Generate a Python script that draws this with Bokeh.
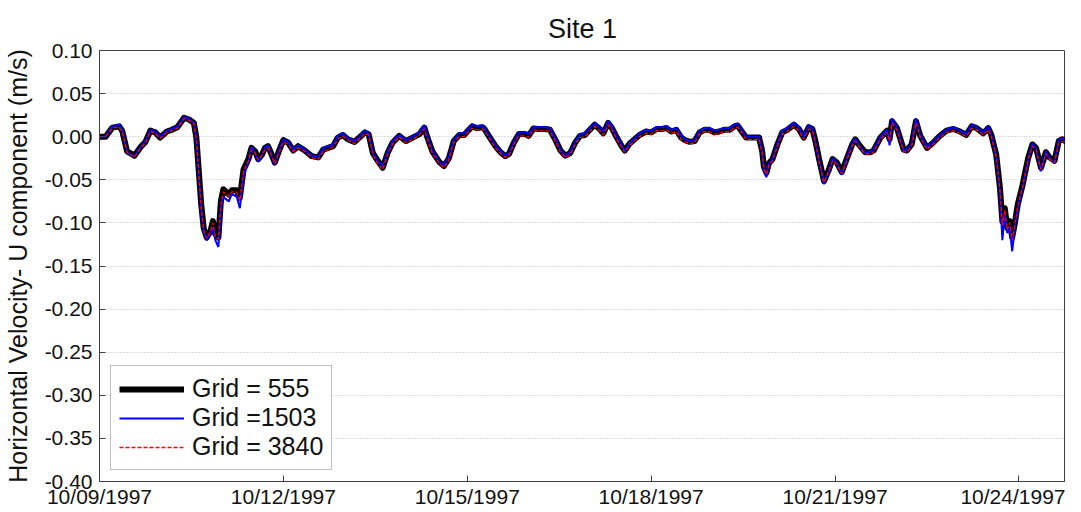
from bokeh.plotting import figure
from bokeh.models import FixedTicker, PrintfTickFormatter, Range1d, Legend, LegendItem
from bokeh.embed import file_html
from bokeh.resources import INLINE

# ---------------- data ----------------
# time in days since 10/09/1997 00:00
days = [0.00, 0.10, 0.21, 0.32, 0.37, 0.45, 0.57, 0.67, 0.75, 0.83,
        0.91, 0.99, 1.10, 1.18, 1.27, 1.38, 1.46, 1.54, 1.58, 1.62,
        1.66, 1.70, 1.75, 1.81, 1.85, 1.89, 1.94, 1.98, 2.02, 2.11,
        2.16, 2.24, 2.29, 2.35, 2.43, 2.48, 2.54, 2.59, 2.65, 2.70,
        2.75, 2.81, 2.86, 2.92, 3.00, 3.08, 3.16, 3.24, 3.35, 3.46,
        3.57, 3.65, 3.73, 3.81, 3.89, 3.97, 4.05, 4.16, 4.24, 4.33,
        4.39, 4.46, 4.54, 4.62, 4.70, 4.78, 4.89, 5.00, 5.11, 5.22,
        5.30, 5.35, 5.43, 5.54, 5.62, 5.70, 5.78, 5.87, 5.95, 6.00,
        6.08, 6.16, 6.25, 6.28, 6.35, 6.46, 6.54, 6.62, 6.68, 6.76,
        6.84, 6.95, 7.00, 7.08, 7.16, 7.27, 7.35, 7.44, 7.52, 7.60,
        7.68, 7.76, 7.84, 7.92, 8.00, 8.08, 8.16, 8.22, 8.30, 8.36,
        8.44, 8.52, 8.57, 8.65, 8.73, 8.81, 8.92, 9.00, 9.09, 9.17,
        9.25, 9.33, 9.41, 9.49, 9.55, 9.63, 9.71, 9.79, 9.87, 9.95,
        10.03, 10.11, 10.19, 10.28, 10.36, 10.41, 10.49, 10.55, 10.65, 10.76,
        10.81, 10.84, 10.88, 10.92, 10.98, 11.06, 11.14, 11.22, 11.33, 11.41,
        11.49, 11.57, 11.63, 11.68, 11.74, 11.82, 11.89, 11.96, 12.03, 12.11,
        12.20, 12.28, 12.33, 12.41, 12.49, 12.58, 12.63, 12.74, 12.85, 12.89,
        12.93, 13.01, 13.12, 13.17, 13.25, 13.32, 13.39, 13.50, 13.60, 13.71,
        13.82, 13.93, 14.04, 14.14, 14.23, 14.31, 14.42, 14.50, 14.55, 14.63,
        14.69, 14.73, 14.77, 14.81, 14.85, 14.89, 14.93, 14.98, 15.06, 15.15,
        15.22, 15.28, 15.36, 15.44, 15.50, 15.58, 15.65, 15.71, 15.80, 15.88,
        16.00]

u_grid_555 = [
    0.000, 0.000, 0.0105, 0.012, 0.007, -0.017, -0.022, -0.012, -0.006, 0.007,
    0.005, -0.001, 0.006, 0.008, 0.011, 0.022, 0.020, 0.016, -0.001, -0.040,
    -0.079, -0.106, -0.117, -0.110, -0.098, -0.113, -0.117, -0.075, -0.061, -0.067,
    -0.062, -0.062, -0.071, -0.038, -0.026, -0.013, -0.017, -0.026, -0.021, -0.013,
    -0.011, -0.021, -0.030, -0.018, -0.004, -0.007, -0.016, -0.011, -0.016, -0.0225,
    -0.024, -0.015, -0.013, -0.011, -0.001, 0.002, -0.003, -0.006, -0.001, 0.005,
    0.003, -0.019, -0.028, -0.036, -0.019, -0.007, 0.001, -0.005, -0.001, 0.003,
    0.0105, -0.001, -0.017, -0.029, -0.034, -0.025, -0.005, 0.002, 0.002, 0.006,
    0.012, 0.010, 0.011, 0.009, 0.001, -0.011, -0.018, -0.0225, -0.020, -0.007,
    0.003, 0.003, 0.001, 0.0095, 0.009, 0.009, 0.008, -0.004, -0.016, -0.022,
    -0.019, -0.007, 0.001, 0.002, 0.008, 0.014, 0.009, 0.004, 0.016, 0.010,
    -0.001, -0.011, -0.016, -0.008, -0.003, 0.002, 0.006, 0.005, 0.009, 0.009,
    0.010, 0.006, 0.008, -0.001, -0.004, -0.006, -0.005, 0.005, 0.008, 0.008,
    0.005, 0.006, 0.008, 0.008, 0.012, 0.013, 0.005, -0.001, -0.001, -0.001,
    -0.016, -0.035, -0.042, -0.031, -0.026, -0.009, 0.005, 0.008, 0.014, 0.009,
    -0.001, 0.011, 0.009, -0.005, -0.026, -0.0515, -0.040, -0.026, -0.030, -0.041,
    -0.024, -0.009, -0.003, -0.011, -0.018, -0.018, -0.016, -0.001, 0.007, -0.003,
    0.018, 0.010, -0.015, -0.016, -0.009, 0.018, 0.001, -0.013, -0.007, 0.001,
    0.007, 0.009, 0.006, 0.002, 0.012, 0.010, 0.004, 0.010, 0.002, -0.021,
    -0.059, -0.098, -0.083, -0.106, -0.098, -0.117, -0.102, -0.079, -0.056, -0.025,
    -0.009, -0.013, -0.036, -0.018, -0.024, -0.028, -0.005, -0.003, -0.007, -0.007,
    -0.005]

u_grid_1503 = [
    0.000, 0.000, 0.012, 0.014, 0.008, -0.018, -0.023, -0.012, -0.005, 0.008,
    0.006, 0.000, 0.007, 0.009, 0.012, 0.023, 0.021, 0.016, -0.004, -0.045,
    -0.085, -0.110, -0.120, -0.112, -0.105, -0.120, -0.128, -0.085, -0.070, -0.075,
    -0.066, -0.070, -0.083, -0.045, -0.030, -0.012, -0.019, -0.029, -0.022, -0.012,
    -0.010, -0.023, -0.032, -0.017, -0.003, -0.006, -0.015, -0.010, -0.015, -0.022,
    -0.023, -0.013, -0.011, -0.009, 0.001, 0.004, -0.002, -0.005, 0.000, 0.007,
    0.004, -0.018, -0.029, -0.034, -0.018, -0.005, 0.002, -0.004, 0.000, 0.005,
    0.013, 0.000, -0.016, -0.029, -0.033, -0.024, -0.004, 0.004, 0.004, 0.008,
    0.014, 0.012, 0.013, 0.010, 0.002, -0.010, -0.017, -0.022, -0.019, -0.006,
    0.005, 0.005, 0.003, 0.011, 0.011, 0.011, 0.010, -0.003, -0.015, -0.023,
    -0.018, -0.006, 0.003, 0.004, 0.010, 0.016, 0.011, 0.006, 0.018, 0.012,
    0.000, -0.010, -0.017, -0.007, -0.002, 0.004, 0.008, 0.007, 0.011, 0.011,
    0.012, 0.008, 0.010, 0.001, -0.003, -0.005, -0.004, 0.007, 0.010, 0.010,
    0.007, 0.008, 0.010, 0.010, 0.014, 0.015, 0.006, 0.000, 0.000, 0.000,
    -0.017, -0.038, -0.047, -0.032, -0.025, -0.008, 0.007, 0.010, 0.016, 0.011,
    0.000, 0.013, 0.010, -0.006, -0.028, -0.055, -0.041, -0.025, -0.031, -0.044,
    -0.023, -0.008, -0.002, -0.012, -0.019, -0.017, -0.015, 0.000, 0.008, -0.010,
    0.021, 0.011, -0.016, -0.015, -0.008, 0.021, 0.002, -0.012, -0.006, 0.002,
    0.008, 0.011, 0.007, 0.003, 0.014, 0.011, 0.005, 0.012, 0.003, -0.023,
    -0.065, -0.120, -0.088, -0.112, -0.104, -0.133, -0.108, -0.084, -0.060, -0.027,
    -0.008, -0.014, -0.040, -0.017, -0.025, -0.031, -0.004, -0.002, -0.006, -0.006,
    -0.004]

u_grid_3840 = [
    0.000, 0.000, 0.010, 0.011, 0.006, -0.018, -0.024, -0.013, -0.007, 0.006,
    0.004, -0.002, 0.005, 0.007, 0.010, 0.021, 0.019, 0.015, -0.002, -0.042,
    -0.082, -0.108, -0.118, -0.110, -0.100, -0.116, -0.119, -0.078, -0.064, -0.069,
    -0.064, -0.064, -0.074, -0.040, -0.028, -0.015, -0.019, -0.027, -0.022, -0.015,
    -0.013, -0.022, -0.031, -0.020, -0.006, -0.009, -0.017, -0.013, -0.017, -0.024,
    -0.026, -0.017, -0.015, -0.012, -0.003, 0.001, -0.004, -0.008, -0.003, 0.004,
    0.002, -0.021, -0.031, -0.038, -0.021, -0.009, 0.000, -0.007, -0.003, 0.002,
    0.009, -0.003, -0.019, -0.031, -0.036, -0.027, -0.007, 0.000, 0.000, 0.004,
    0.010, 0.008, 0.009, 0.007, -0.001, -0.013, -0.020, -0.024, -0.022, -0.009,
    0.001, 0.001, -0.001, 0.008, 0.007, 0.007, 0.006, -0.006, -0.018, -0.024,
    -0.021, -0.009, -0.001, 0.000, 0.006, 0.012, 0.007, 0.002, 0.014, 0.008,
    -0.003, -0.013, -0.018, -0.010, -0.005, 0.000, 0.004, 0.003, 0.007, 0.007,
    0.008, 0.004, 0.006, -0.003, -0.006, -0.008, -0.007, 0.003, 0.006, 0.006,
    0.003, 0.004, 0.006, 0.006, 0.010, 0.011, 0.003, -0.003, -0.003, -0.003,
    -0.018, -0.037, -0.044, -0.033, -0.028, -0.011, 0.003, 0.006, 0.012, 0.007,
    -0.003, 0.009, 0.007, -0.007, -0.028, -0.053, -0.042, -0.028, -0.032, -0.043,
    -0.026, -0.011, -0.005, -0.013, -0.020, -0.020, -0.018, -0.003, 0.005, -0.005,
    0.016, 0.008, -0.017, -0.018, -0.011, 0.016, -0.001, -0.015, -0.009, -0.001,
    0.005, 0.007, 0.004, 0.000, 0.010, 0.008, 0.002, 0.008, 0.000, -0.023,
    -0.061, -0.103, -0.085, -0.108, -0.100, -0.120, -0.104, -0.081, -0.058, -0.027,
    -0.011, -0.015, -0.038, -0.020, -0.026, -0.030, -0.007, -0.005, -0.009, -0.009,
    -0.007]

x_tick_days = [0, 3, 6, 9, 12, 15]
x_tick_labels = ["10/09/1997", "10/12/1997", "10/15/1997",
                 "10/18/1997", "10/21/1997", "10/24/1997"]
y_ticks = [0.10, 0.05, 0.00, -0.05, -0.10, -0.15, -0.20, -0.25, -0.30, -0.35, -0.40]
series_labels = ["Grid = 555", "Grid =1503", "Grid = 3840"]

# ---------------- figure ----------------
FONT = "Liberation Sans"
p = figure(width=1065, height=510, output_backend="svg", toolbar_location=None,
           x_range=Range1d(0, 15.76), y_range=Range1d(-0.40, 0.10),
           title="Site 1", min_border_left=94, min_border_right=0,
           min_border_top=50, min_border_bottom=27)
p.background_fill_color = "white"
p.border_fill_color = "white"
p.outline_line_color = "#404040"
p.outline_line_width = 1

p.title.text_font = FONT
p.title.text_font_size = "27px"
p.title.text_font_style = "normal"
p.title.text_color = "#111111"
p.title.align = "center"
p.title.standoff = 14

# axes
for ax in (p.xaxis[0], p.yaxis[0]):
    ax.major_tick_in = 6
    ax.major_tick_out = 0
    ax.minor_tick_in = 0
    ax.minor_tick_out = 0
    ax.axis_line_color = "#404040"
    ax.major_tick_line_color = "#404040"
    ax.major_label_text_font = FONT
    ax.major_label_text_font_size = "21px"
    ax.major_label_text_color = "#111111"

p.xaxis.ticker = FixedTicker(ticks=x_tick_days)
p.xaxis.major_label_overrides = {d: s for d, s in zip(x_tick_days, x_tick_labels)}
p.xaxis.major_label_standoff = 3

p.yaxis.ticker = FixedTicker(ticks=y_ticks)
p.yaxis.formatter = PrintfTickFormatter(format="%.2f")
p.yaxis.major_label_standoff = 7
p.yaxis.axis_label = "Horizontal Velocity- U component (m/s)"
p.yaxis.axis_label_text_font = FONT
p.yaxis.axis_label_text_font_size = "25px"
p.yaxis.axis_label_text_font_style = "normal"
p.yaxis.axis_label_text_color = "#111111"
p.yaxis.axis_label_standoff = 10

# grid
p.xgrid.visible = False
p.ygrid.ticker = FixedTicker(ticks=y_ticks)
p.ygrid.grid_line_color = "#b8b8b8"
p.ygrid.grid_line_dash = "1 2"
p.ygrid.grid_line_width = 1

# lines
r_black = p.line(days, u_grid_555, line_color="black", line_width=6, line_join="round")
r_blue = p.line(days, u_grid_1503, line_color="#0000ff", line_width=2)
r_red = p.line(days, u_grid_3840, line_color="#ff0000", line_width=1.3, line_dash="4 2")

legend = Legend(items=[LegendItem(label=series_labels[0], renderers=[r_black]),
                       LegendItem(label=series_labels[1], renderers=[r_blue]),
                       LegendItem(label=series_labels[2], renderers=[r_red])],
                location="bottom_left")
legend.margin = 11
legend.padding = 8
legend.spacing = 0
legend.glyph_width = 65
legend.glyph_height = 24
legend.label_height = 24
legend.label_standoff = 8
legend.label_text_font = FONT
legend.label_text_font_size = "25px"
legend.label_text_color = "#111111"
legend.border_line_color = "#808080"
legend.border_line_width = 1
legend.background_fill_color = "white"
legend.background_fill_alpha = 1.0
p.add_layout(legend, "center")

open("out.html", "w").write(file_html(p, INLINE))
